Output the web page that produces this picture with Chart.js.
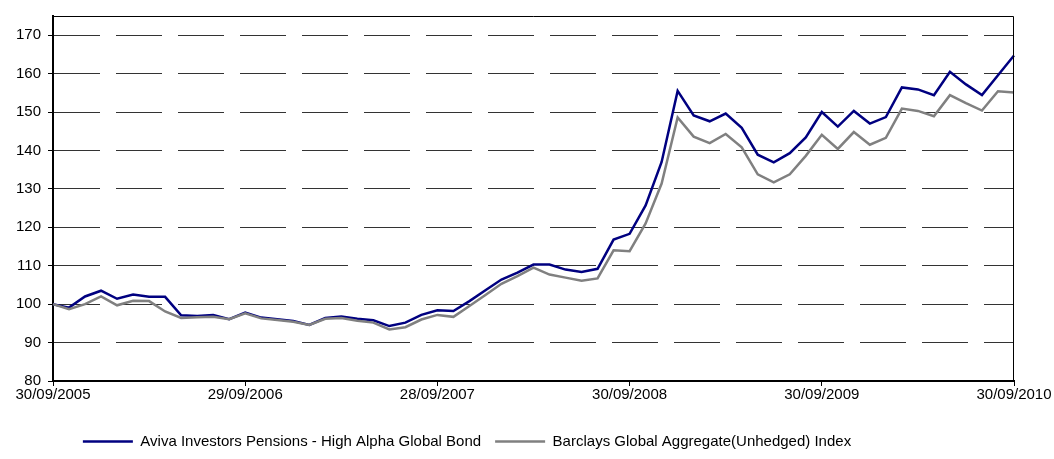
<!DOCTYPE html>
<html lang="en">
<head>
    <meta charset="UTF-8">
    <title>High Alpha Global Bond vs Barclays Global Aggregate</title>
    <script src="https://cdn.jsdelivr.net/npm/chart.js"></script>
    <style>
        body {
            margin: 0;
            background-color: #fff;
        }
        #wrap {
            width: 1054px;
            height: 459px;
        }
    </style>
</head>
<body>
    <div id="wrap">
        <canvas id="perfChart" width="1054" height="459"></canvas>
    </div>

    <script>
        // labels shown on the x axis, one every 12 months
        const tickLabels = ['30/09/2005', '29/09/2006', '28/09/2007', '30/09/2008', '30/09/2009', '30/09/2010'];

        // legend names
        const seriesNames = [
            'Aviva Investors Pensions - High Alpha Global Bond',
            'Barclays Global Aggregate(Unhedged) Index'
        ];

        // monthly values, rebased to 100
        const fundValues = [
            100, 99.1, 102, 103.5, 101.4, 102.5, 101.9, 101.9, 97.1, 96.9, 97.2,
            96.1, 97.8, 96.5, 96.1, 95.6, 94.6, 96.4, 96.8, 96.2, 95.8,
            94.3, 95.2, 97.2, 98.4, 98.2, 100.8, 103.6, 106.4, 108.2, 110.3,
            110.3, 109.0, 108.4, 109.2, 116.8, 118.3, 125.7, 137, 155.5, 149.1,
            147.6, 149.6, 145.9, 138.9, 136.9, 139.3, 143.4, 150, 146.2, 150.3,
            147, 148.7, 156.4, 155.9, 154.4, 160.5, 157.2, 154.4, 159.6, 164.7
        ];
        const indexValues = [
            100, 98.7, 100, 102, 99.7, 100.9, 100.8, 98.1, 96.4, 96.6, 96.7,
            96.1, 97.6, 96.3, 95.9, 95.4, 94.6, 96.2, 96.4, 95.7, 95.2,
            93.4, 94, 96, 97.2, 96.7, 99.5, 102.4, 105.3, 107.3, 109.5,
            107.7, 106.9, 106.1, 106.7, 114, 113.8, 121, 131.4, 148.6, 143.6,
            141.9, 144.3, 140.8, 133.8, 131.7, 133.8, 138.6, 144.1, 140.4, 144.8,
            141.5, 143.3, 150.9, 150.3, 148.9, 154.4, 152.3, 150.4, 155.4, 155.1
        ];

        // one category per month, only the yearly ones carry a label
        const months = fundValues.map((_, i) => i % 12 === 0 ? tickLabels[i / 12] : '');

        Chart.defaults.font.family = "'Liberation Sans', Arial, sans-serif";
        Chart.defaults.color = '#000';

        // thin top and right edge of the plot area, legend pulled a bit left
        const framePlugin = {
            id: 'frame',
            beforeDraw(chart) {
                // the original legend sits left of the page centre
                if (chart.legend) {
                    chart.legend.right = chart.legend.left + chart.legend.width - 80;
                }
            },
            afterDatasetsDraw(chart) {
                const a = chart.chartArea;
                const ctx = chart.ctx;
                ctx.save();
                ctx.strokeStyle = '#000';
                ctx.lineWidth = 1;
                ctx.beginPath();
                ctx.moveTo(a.left, a.top + 0.5);
                ctx.lineTo(a.right - 0.5, a.top + 0.5);
                ctx.lineTo(a.right - 0.5, a.bottom);
                ctx.stroke();
                ctx.restore();
            }
        };

        const ctx = document.getElementById('perfChart').getContext('2d');
        new Chart(ctx, {
            type: 'line',
            data: {
                labels: months,
                datasets: [
                    {
                        label: seriesNames[0],
                        data: fundValues,
                        borderColor: '#000080',
                        borderWidth: 2.5,
                        pointRadius: 0,
                        tension: 0,
                        order: 2
                    },
                    {
                        label: seriesNames[1],
                        data: indexValues,
                        borderColor: '#808080',
                        borderWidth: 2.5,
                        pointRadius: 0,
                        tension: 0,
                        order: 1
                    }
                ]
            },
            options: {
                responsive: false,
                animation: false,
                layout: {
                    padding: { top: 16, right: 40, left: 0, bottom: 0 }
                },
                plugins: {
                    tooltip: { enabled: false },
                    legend: {
                        position: 'bottom',
                        labels: {
                            usePointStyle: true,
                            pointStyle: 'line',
                            pointStyleWidth: 50,
                            padding: 14,
                            font: { size: 15 },
                            color: '#000',
                            sort: (a, b) => a.datasetIndex - b.datasetIndex
                        }
                    }
                },
                scales: {
                    x: {
                        offset: false,
                        afterBuildTicks: (scale) => {
                            scale.ticks = scale.ticks.filter(t => months[t.value] !== '');
                        },
                        afterFit: (scale) => {
                            scale.paddingLeft = 0;
                            scale.paddingRight = 0;
                            scale.height += 16;
                        },
                        grid: {
                            drawOnChartArea: false,
                            tickLength: 5,
                            tickColor: '#000'
                        },
                        border: { color: '#000', width: 2 },
                        ticks: {
                            autoSkip: false,
                            maxRotation: 0,
                            padding: 0,
                            font: { size: 15 },
                            color: '#000'
                        }
                    },
                    y: {
                        min: 80,
                        max: 175,
                        afterBuildTicks: (scale) => {
                            scale.ticks = scale.ticks.filter(t => t.value <= 170);
                        },
                        afterFit: (scale) => {
                            scale.width = 53;
                        },
                        grid: {
                            color: '#333',
                            lineWidth: 1,
                            tickLength: 5,
                            tickColor: '#000',
                            tickBorderDash: []
                        },
                        border: { color: '#000', width: 2, dash: [46, 16] },
                        ticks: {
                            stepSize: 10,
                            padding: 7,
                            font: { size: 15 },
                            color: '#000'
                        }
                    }
                }
            },
            plugins: [framePlugin]
        });
    </script>
</body>
</html>
